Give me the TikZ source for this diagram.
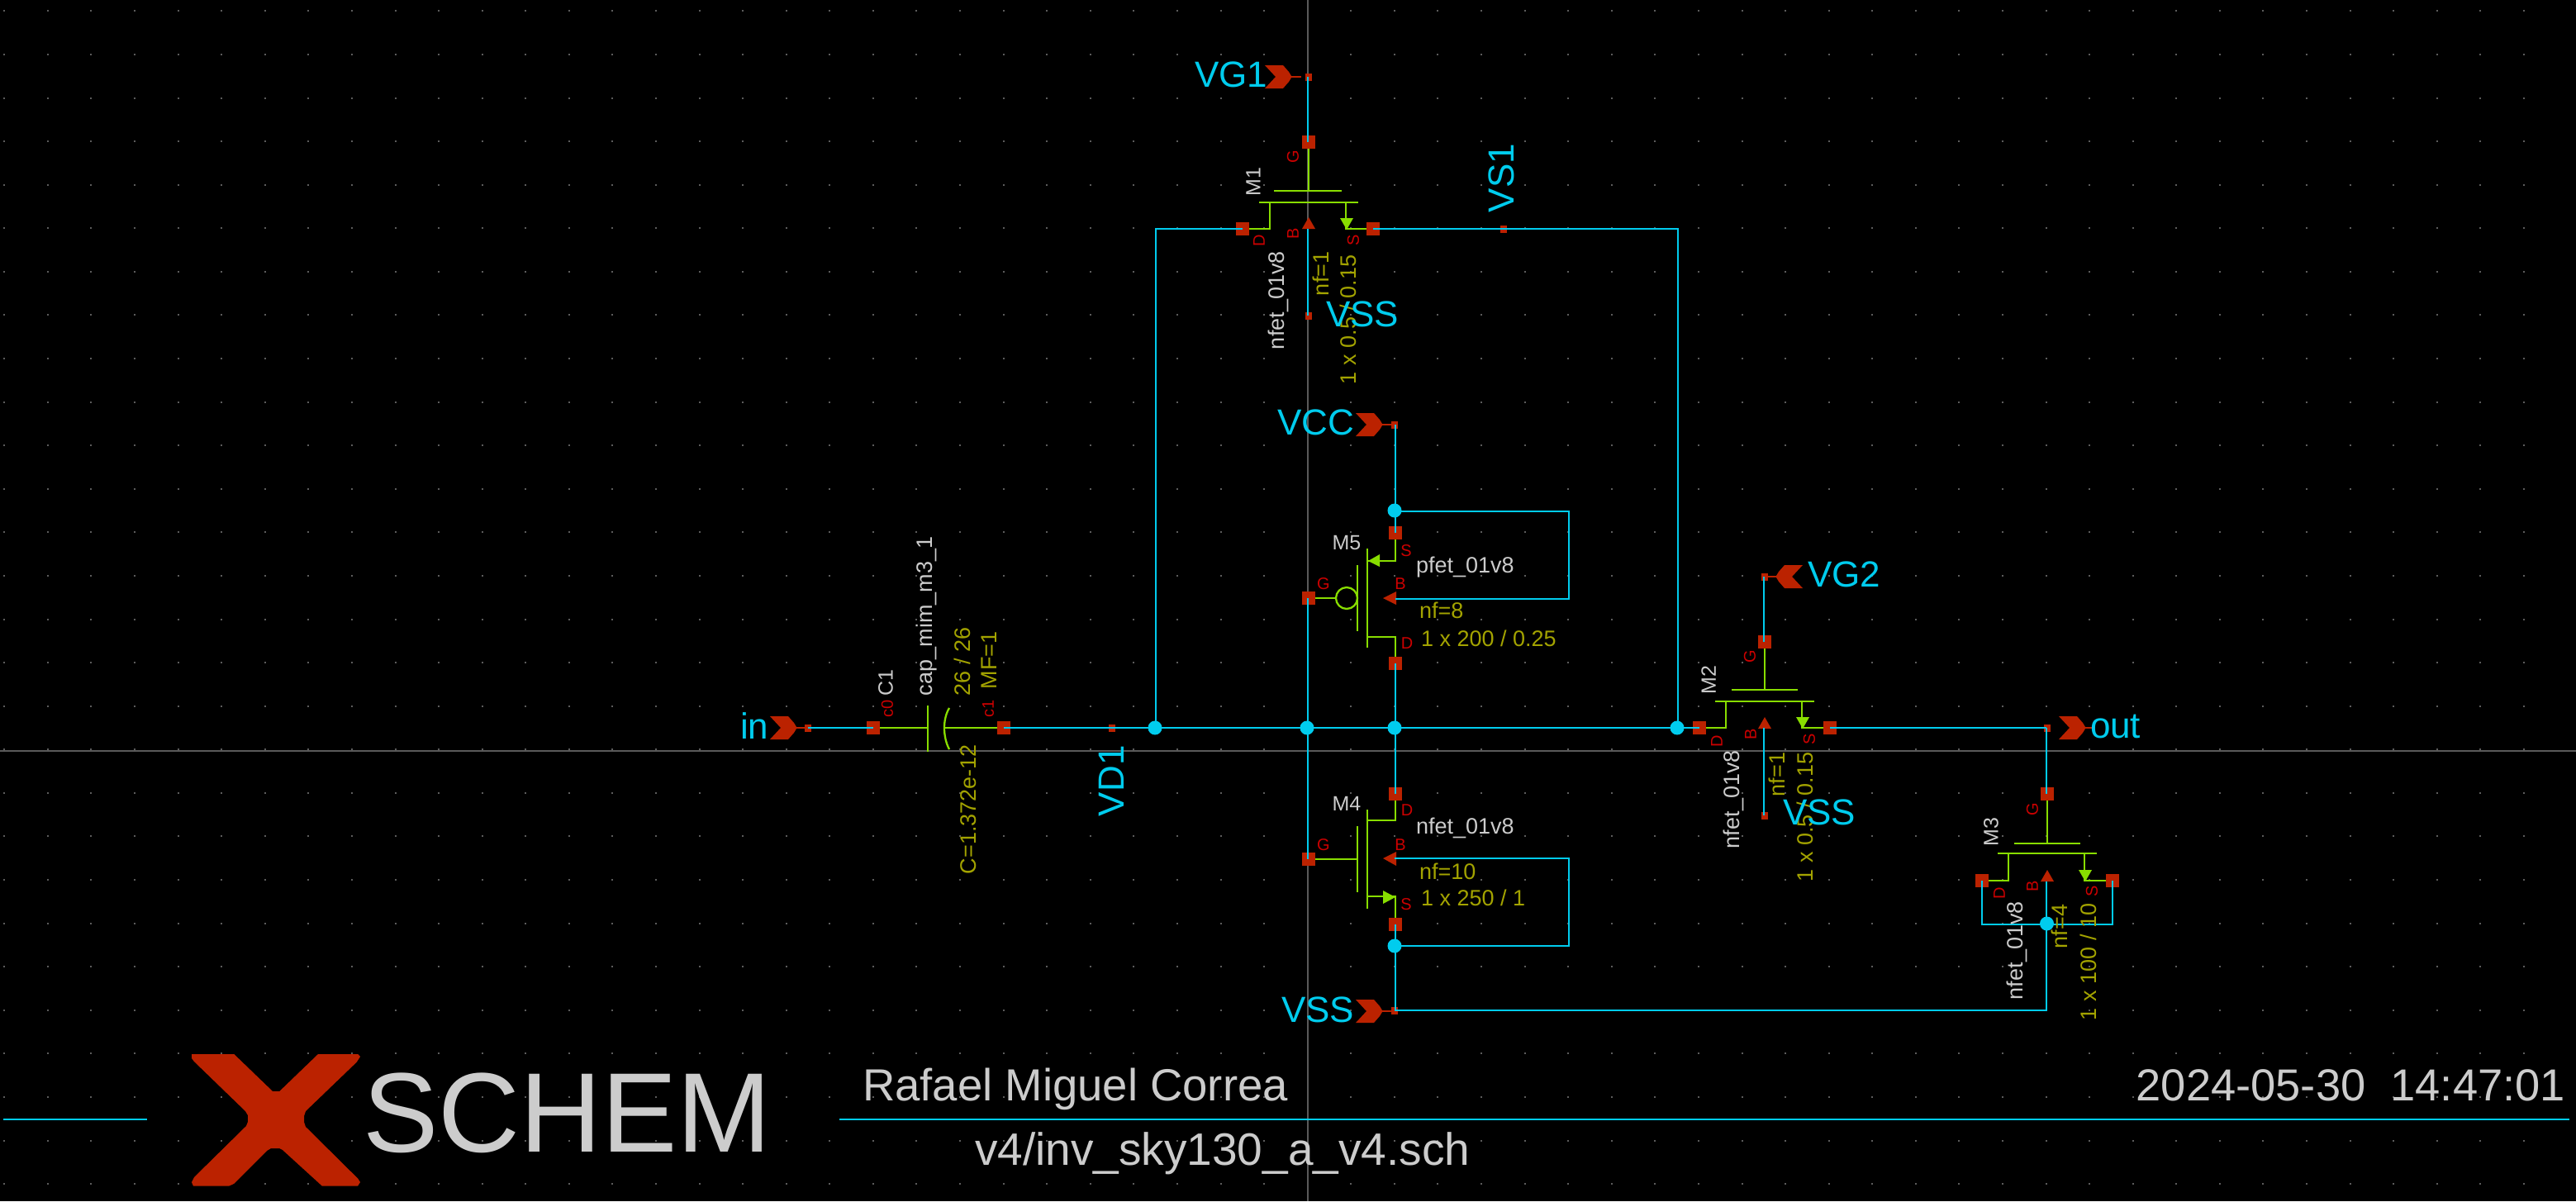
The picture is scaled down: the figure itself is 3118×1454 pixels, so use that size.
\documentclass[tikz,border=0pt]{standalone}
\usepackage{fontspec}
\setmainfont{Liberation Sans}
\definecolor{xbg}{HTML}{000000}
\definecolor{xcyan}{HTML}{00CCEE}
\definecolor{xgreen}{HTML}{88DD00}
\definecolor{xred}{HTML}{BB2200}
\definecolor{xlab}{HTML}{CC0000}
\definecolor{xgray}{HTML}{CCCCCC}
\definecolor{xolive}{HTML}{A3A300}
\definecolor{xcross}{HTML}{5A5A5A}
\definecolor{xdot}{HTML}{5C5C5C}
\tikzset{
  wire/.style={draw=xcyan,line width=2.3pt},
  dev/.style={draw=xgreen,line width=2.3pt},
  pinbig/.style={rectangle,fill=xred,draw=none,minimum width=16pt,minimum height=16pt,inner sep=0pt,outer sep=0pt},
  pinsmall/.style={rectangle,fill=xred,draw=none,minimum width=8pt,minimum height=9pt,inner sep=0pt,outer sep=0pt},
  junc/.style={circle,fill=xcyan,draw=none,minimum size=17pt,inner sep=0pt,outer sep=0pt},
  tx/.style={inner sep=0pt,outer sep=0pt},
  base/.style={tx,anchor=base west},
  rot/.style={tx,anchor=base west,rotate=90},
  cy/.style={text=xcyan,font=\fontsize{44}{44}\selectfont},
  wh/.style={text=xgray,font=\fontsize{27}{27}\selectfont},
  ol/.style={text=xolive,font=\fontsize{27}{27}\selectfont},
  rd/.style={tx,anchor=center,text=xlab,font=\fontsize{20}{20}\selectfont},
  mn/.style={tx,anchor=center,text=xgray,font=\fontsize{25}{25}\selectfont},
  chevron/.pic={
    \fill[xred] (-32,-14)--(-10,-14)--(-3,-6)--(0,-1)--(0,1)--(-3,6)--(-10,14)--(-32,14)--(-19,0)--cycle;
    \draw[xred,line width=2pt] (-1,0)--(12,0);
  },
  arrowd/.pic={\fill[xred] (-8,0)--(8,0)--(0,-14)--cycle;},
  arrowg/.pic={\fill[xgreen] (-8,-14)--(8,-14)--(0,0)--cycle;}
}
\begin{document}
\begin{tikzpicture}[x=1pt,y=-1pt]
\useasboundingbox (0,0) rectangle (3118,1454);
\fill[xbg] (0,0) rectangle (3118,1454);
% grid dots
\foreach \i in {0,...,58}{
  \foreach \j in {0,...,27}{
    \fill[xdot] ({5.3+52.58*\i-1},{13.4+52.58*\j-1}) rectangle ++(2,2);
  }
}
% crosshair
\draw[xcross,line width=1.6pt] (1582.7,0)--(1582.7,1454);
\draw[xcross,line width=1.6pt] (0,909)--(3118,909);

% pins : M1
\node[pinbig] (M1g) at (1584,172) {};
\node[pinbig] (M1d) at (1504,277) {};
\node[pinbig] (M1s) at (1662,277) {};
\coordinate (M1b) at (1583,277);
\node[pinsmall] (pVSSa) at (1584,382) {};
\node[pinsmall] (pVG1) at (1584,93) {};
\node[pinsmall] (pVS1) at (1820,277) {};
% M2
\node[pinbig] (M2g) at (2136,777) {};
\node[pinbig] (M2d) at (2057,881) {};
\node[pinbig] (M2s) at (2215,881) {};
\coordinate (M2b) at (2135,881);
\node[pinsmall] (pVSSb) at (2136,987) {};
\node[pinsmall] (pVG2) at (2136,698) {};
\node[pinsmall] (pOut) at (2478,881) {};
% M3
\node[pinbig] (M3g) at (2478,961) {};
\node[pinbig] (M3d) at (2399,1066) {};
\node[pinbig] (M3s) at (2557,1066) {};
\coordinate (M3b) at (2477,1067);
% M5
\node[pinbig] (M5s) at (1689,645) {};
\node[pinbig] (M5d) at (1689,803) {};
\node[pinbig] (M5g) at (1584,724) {};
\coordinate (M5b) at (1688,725);
\node[pinsmall] (pVCC) at (1688,514) {};
% M4
\node[pinbig] (M4d) at (1689,961) {};
\node[pinbig] (M4s) at (1689,1119) {};
\node[pinbig] (M4g) at (1584,1040) {};
\coordinate (M4b) at (1688,1039);
\node[pinsmall] (pVSSc) at (1688,1223) {};
% C1
\node[pinbig] (C1a) at (1057,881) {};
\node[pinbig] (C1b) at (1215,881) {};
\node[pinsmall] (pIn) at (978,881) {};
\node[pinsmall] (pVD1) at (1346,881) {};

% chevrons
\pic at (964,881) {chevron};
\pic at (1563,93) {chevron};
\pic at (1673,514) {chevron};
\pic at (1673,1224) {chevron};
\pic at (2524,881) {chevron};
\pic[xscale=-1] at (2150,698) {chevron};

% device bodies
% M1
\draw[dev] (M1g) -- (1584,231);
\draw[dev] (1542,231)--(1624,231);
\draw[dev] (1524,245)--(1644,245);
\draw[dev] (M1d) -| (1537,245);
\draw[dev] (M1s) -| (1629,245);
\pic at (1630,278) {arrowg};
\pic at (1584,277) {arrowd};
% M2
\draw[dev] (M2g) -- (2136,835);
\draw[dev] (2096,835)--(2176,835);
\draw[dev] (2076,849)--(2196,849);
\draw[dev] (M2d) -| (2089,849);
\draw[dev] (M2s) -| (2181,849);
\pic at (2182,882) {arrowg};
\pic at (2136,882) {arrowd};
% M3
\draw[dev] (M3g) -- (2478,1021);
\draw[dev] (2438,1021)--(2518,1021);
\draw[dev] (2418,1033)--(2538,1033);
\draw[dev] (M3d) -| (2431,1033);
\draw[dev] (M3s) -| (2523,1033);
\pic at (2524,1067) {arrowg};
\pic at (2478,1067) {arrowd};
% M5
\draw[dev] (M5s) |- (1655,679);
\draw[dev] (1655,664)--(1655,784);
\draw[dev] (1643,684)--(1643,764);
\draw[dev] (M5g) -- (1617,724);
\draw[dev] (1630,724) circle[radius=13];
\draw[dev] (M5d) |- (1655,771);
\fill[xgreen] (1656,679)--(1670,671)--(1670,686)--cycle;
\fill[xred] (1674,724)--(1690,716)--(1690,732)--cycle;
% M4
\draw[dev] (M4d) |- (1655,993);
\draw[dev] (1655,980)--(1655,1100);
\draw[dev] (1643,1000)--(1643,1080);
\draw[dev] (M4g) -- (1643,1040);
\draw[dev] (M4s) |- (1655,1085);
\fill[xgreen] (1689,1086)--(1674,1078)--(1674,1094)--cycle;
\fill[xred] (1674,1039)--(1690,1031)--(1690,1048)--cycle;
% C1
\draw[dev] (C1a) -- (1123,881);
\draw[dev] (1123,854)--(1123,910);
\draw[dev] (1149,857) .. controls (1141,870) and (1141,892) .. (1149,907);
\draw[dev] (1143,881) -- (C1b);

% wires
\coordinate (nVD) at (1399,881);
\coordinate (nVS) at (2031,881);
\coordinate (nDrain) at (1689,881);
\coordinate (nGate) at (1583,881);
\draw[wire] (1583,93) -- (1583,172);
\draw[wire] (M1d.center) -- (1399,277) -- (nVD);
\draw[wire] (M1s.center) -- (pVS1.center) -- (2031,277) -- (nVS);
\draw[wire] (1583,277) -- (1583,382);
\draw[wire] (pIn.center) -- (C1a.center);
\draw[wire] (C1b.center) -- (pVD1.center) -- (nVD) -- (nGate) -- (nDrain) -- (nVS) -- (M2d.center);
\draw[wire] (1583,724) -- (nGate);
\draw[wire] (nGate) -- (1583,1040);
\draw[wire] (1689,514) -- (1689,645);
\draw[wire] (1688,619) -- (1899,619) -- (1899,725) -- (1689,725);
\draw[wire] (M5d.center) -- (nDrain);
\draw[wire] (nDrain) -- (M4d.center);
\draw[wire] (1688,1039) -- (1899,1039) -- (1899,1145) -- (1688,1145);
\draw[wire] (M4s.center) -- (1689,1223);
\draw[wire] (pVSSc.center) -- (2477,1223) -- (2477,1067);
\draw[wire] (2135,698) -- (2135,777);
\draw[wire] (2135,881) -- (2135,987);
\draw[wire] (M2s.center) -- (2477,881);
\draw[wire] (2477,881) -- (2477,961);
\draw[wire] (2399,1066) -- (2399,1119) -- (2557,1119) -- (2557,1066);
% junctions
\node[junc] (jA) at (1398,881) {};
\node[junc] (jB) at (1582,881) {};
\node[junc] (jC) at (1688,881) {};
\node[junc] (jD) at (2030,881) {};
\node[junc] (jE) at (1688,618) {};
\node[junc] (jF) at (1688,1145) {};
\node[junc] (jG) at (2477.5,1118) {};
% footer lines
\coordinate (fA) at (4,1355); \coordinate (fB) at (178,1355);
\coordinate (fC) at (1016,1355); \coordinate (fD) at (3110,1355);
\draw[wire] (fA) -- (fB);
\draw[wire] (fC) -- (fD);

% olive attributes
\node[rot,ol] (t1) at (1608,358) {nf=1};
\node[rot,ol] (t2) at (1641,465) {1 x 0.5 / 0.15};
\node[rot,ol] (t3) at (2160,964) {nf=1};
\node[rot,ol] (t4) at (2194,1067) {1 x 0.5 / 0.15};
\node[rot,ol] (t5) at (2502,1148) {nf=4};
\node[rot,ol] (t6) at (2537,1235) {1 x 100 / 10};
\node[base,ol] (t7) at (1718,748) {nf=8};
\node[base,ol] (t8) at (1720,782) {1 x 200 / 0.25};
\node[base,ol] (t9) at (1718,1064) {nf=10};
\node[base,ol] (t10) at (1720,1096) {1 x 250 / 1};
\node[rot,ol] (t11) at (1174,842) {26 / 26};
\node[rot,ol] (t12) at (1206,834) {MF=1};
\node[rot,ol] (t13) at (1181,1058) {C=1.372e-12};
% gray model names
\node[rot,wh] (w1) at (1554,423) {nfet\_01v8};
\node[rot,wh] (w2) at (2105,1027) {nfet\_01v8};
\node[rot,wh] (w3) at (2448,1210) {nfet\_01v8};
\node[base,wh] (w4) at (1714,693) {pfet\_01v8};
\node[base,wh] (w5) at (1714,1009) {nfet\_01v8};
\node[rot,wh] (w6) at (1128,842) {cap\_mim\_m3\_1};
% instance names
\node[mn,rotate=90] (m1) at (1517,220) {M1};
\node[mn,rotate=90] (m2) at (2068,823) {M2};
\node[mn,rotate=90] (m3) at (2410,1007) {M3};
\node[mn] (m5) at (1630,657) {M5};
\node[mn] (m4) at (1630,973) {M4};
\node[mn,rotate=90] (c1) at (1072,827) {C1};
% pin labels
\node[rd,rotate=90] (a1) at (1565,190) {G};
\node[rd,rotate=90] (a2) at (1524,291) {D};
\node[rd,rotate=90] (a3) at (1565,283) {B};
\node[rd,rotate=90] (a4) at (1638,291) {S};
\node[rd,rotate=90] (a5) at (2118,795) {G};
\node[rd,rotate=90] (a6) at (2078,897) {D};
\node[rd,rotate=90] (a7) at (2119,889) {B};
\node[rd,rotate=90] (a8) at (2190,895) {S};
\node[rd,rotate=90] (a9) at (2460,980) {G};
\node[rd,rotate=90] (a10) at (2420,1081) {D};
\node[rd,rotate=90] (a11) at (2460,1073) {B};
\node[rd,rotate=90] (a12) at (2532,1079) {S};
\node[rd] (a13) at (1702,667) {S};
\node[rd] (a14) at (1602,707) {G};
\node[rd] (a15) at (1695,707) {B};
\node[rd] (a16) at (1703,779) {D};
\node[rd] (a17) at (1703,981) {D};
\node[rd] (a18) at (1602,1023) {G};
\node[rd] (a19) at (1695,1023) {B};
\node[rd] (a20) at (1702,1095) {S};
\node[rd,rotate=90] (a21) at (1074,858) {c0};
\node[rd,rotate=90] (a22) at (1196,858) {c1};
% cyan labels
\node[base,cy] (l1) at (1446,105) {VG1};
\node[base,cy] (l2) at (1546,526) {VCC};
\node[base,cy] (l3) at (1551,1237) {VSS};
\node[base,cy] (l4) at (1605,395) {VSS};
\node[base,cy] (l5) at (2158,998) {VSS};
\node[base,cy] (l6) at (2188,710) {VG2};
\node[base,cy] (l7) at (2530,893) {out};
\node[base,cy] (l8) at (896,894) {in};
\node[rot,cy] (l9) at (1832,257) {VS1};
\node[rot,cy] (l10) at (1360,988) {VD1};
% title block
\fill[xred] (232,1276)--(283.3,1276)--(330,1321)--(338.3,1321)--(385,1276)--(433.3,1276)--(436,1279)--(431.7,1285.7)--(370,1345)--(368,1351)--(368,1358)--(370,1364)--(433.3,1426.7)--(436,1431)--(433,1435.7)--(390,1435.7)--(341.7,1391.7)--(338,1390)--(328,1390)--(323,1393)--(283,1433)--(277,1435.7)--(234,1435.7)--(232,1431)--(235,1425)--(298,1363)--(300,1358)--(300,1350)--(297,1345)--(235,1285)--(232,1281)--cycle;
\node[base,text=xgray,font=\fontsize{137}{137}\selectfont] (logo) at (439,1394) {SCHEM};
\node[base,text=xgray,font=\fontsize{54.5}{55}\selectfont] (auth) at (1044,1332) {Rafael Miguel Correa};
\node[tx,anchor=base east,text=xgray,font=\fontsize{54.3}{55}\selectfont] (date) at (3105,1332) {2024-05-30\ \ 14:47:01};
\node[base,text=xgray,font=\fontsize{55}{55}\selectfont] (file) at (1180,1410) {v4/inv\_sky130\_a\_v4.sch};
\end{tikzpicture}
\end{document}
